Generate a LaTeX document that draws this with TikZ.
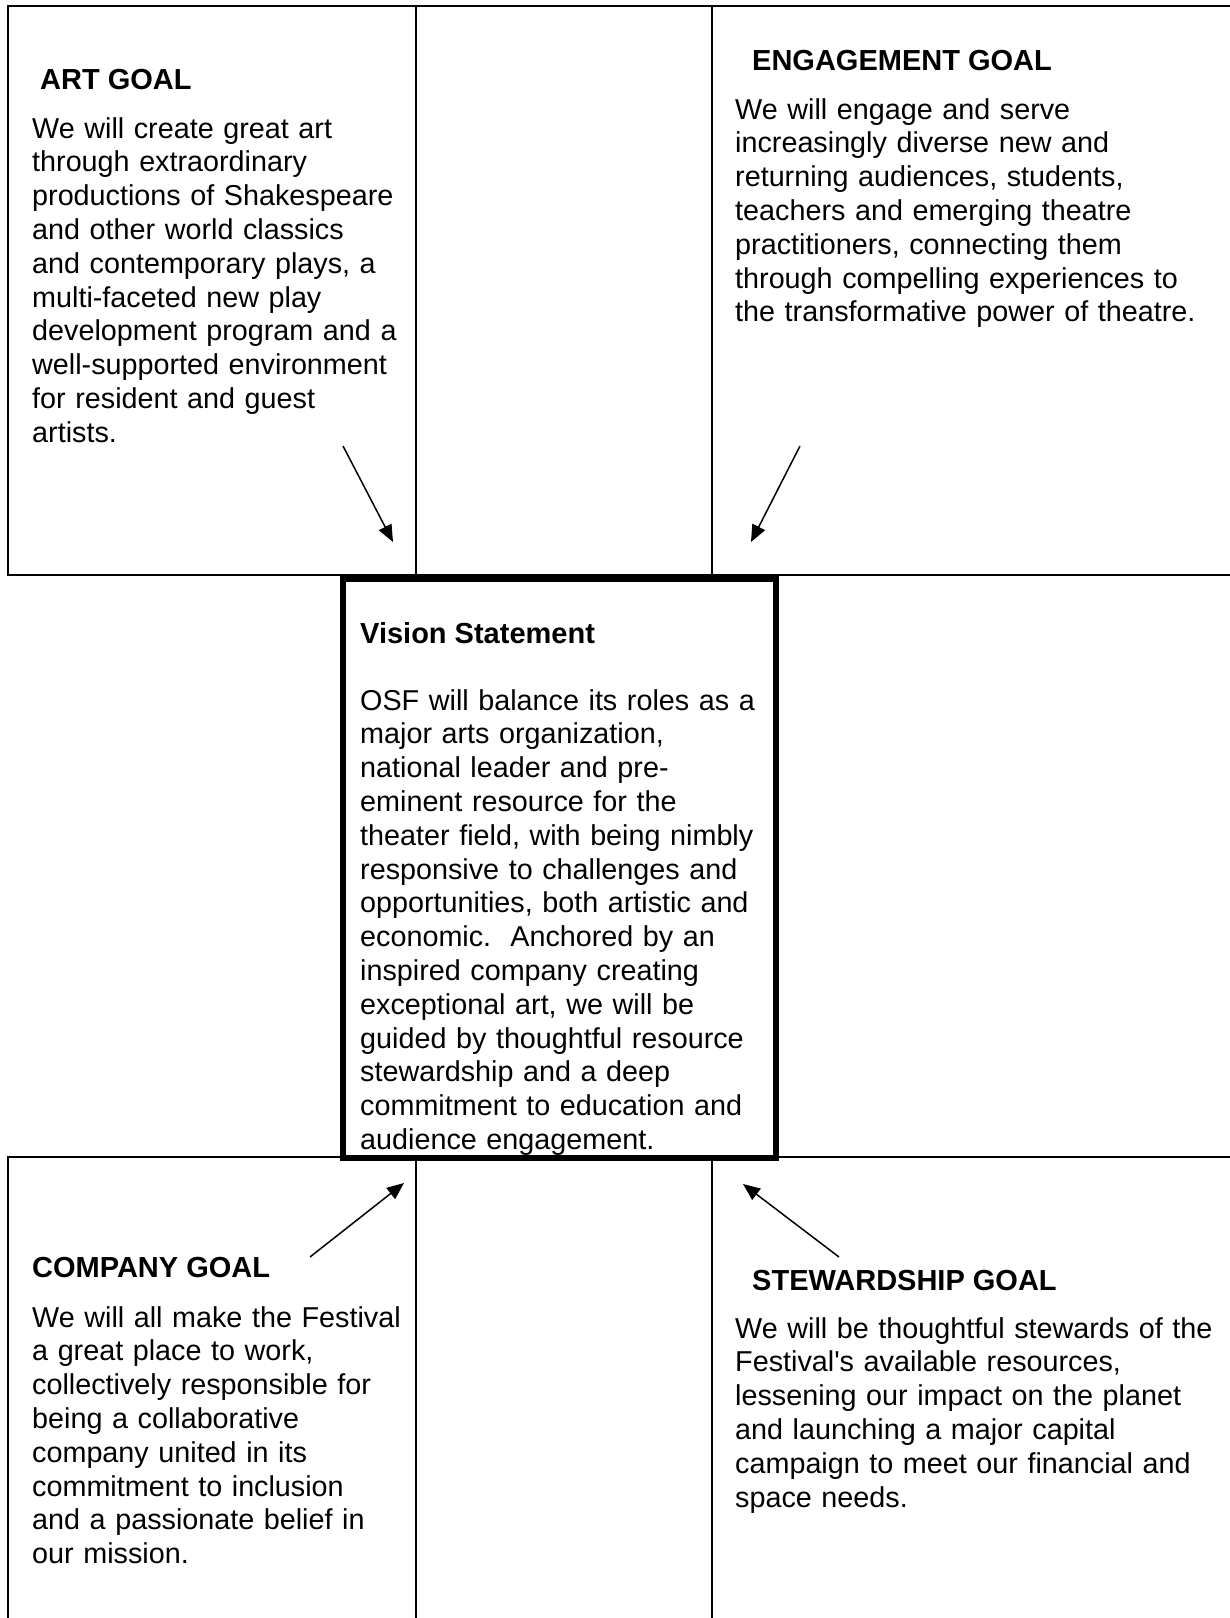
\documentclass[tikz,border=0pt]{standalone}
\usepackage{fontspec}
\newfontfamily\arialf{Liberation Sans}
\usetikzlibrary{arrows.meta}
\begin{document}
\begin{tikzpicture}[x=1pt,y=-1pt,
  thinline/.style={line width=2pt, line join=miter},
  bodytext/.style={anchor=base west, inner sep=0pt, align=left, text width=520pt,
    font=\arialf\fontsize{28.75}{33.8}\selectfont},
  headtext/.style={anchor=base west, inner sep=0pt,
    font=\arialf\bfseries\fontsize{29}{33.8}\selectfont},
  arr/.style={line width=1.5pt, -{Triangle[length=17pt,width=14pt]}},
  visionbox/.style={draw, line width=6pt, fill=white, inner sep=0pt}]
\useasboundingbox (0,0) rectangle (1230,1618);

% cell grid
\draw[thinline] (1230,6) -- (8,6) -- (8,575) -- (1230,575);
\draw[thinline] (416,6) -- (416,575);
\draw[thinline] (712,6) -- (712,575);
\draw[thinline] (8,1618) -- (8,1157) -- (1230,1157);
\draw[thinline] (416,1157) -- (416,1618);
\draw[thinline] (712,1157) -- (712,1618);

% vision box
\node[visionbox, minimum width=433pt, minimum height=579.5pt] (vision) at (559.5,868.25) {};

% Art goal
\node[headtext] (arthead) at (40,89) {ART GOAL};
\node[bodytext] (artbody) at (32,138) {We will create great art\\
through extraordinary\\
productions of Shakespeare\\
and other world classics\\
and contemporary plays, a\\
multi-faceted new play\\
development program and a\\
well-supported environment\\
for resident and guest\\
artists.};

% Engagement goal
\node[headtext] (enghead) at (752,70) {ENGAGEMENT GOAL};
\node[bodytext] (engbody) at (735,119) {We will engage and serve\\
increasingly diverse new and\\
returning audiences, students,\\
teachers and emerging theatre\\
practitioners, connecting them\\
through compelling experiences to\\
the transformative power of theatre.};

% Vision statement
\node[headtext] (vishead) at (360,643) {Vision Statement};
\node[bodytext] (visbody) at (360,710) {OSF will balance its roles as a\\
major arts organization,\\
national leader and pre-\\
eminent resource for the\\
theater field, with being nimbly\\
responsive to challenges and\\
opportunities, both artistic and\\
economic.\ \ Anchored by an\\
inspired company creating\\
exceptional art, we will be\\
guided by thoughtful resource\\
stewardship and a deep\\
commitment to education and\\
audience engagement.};

% Company goal
\node[headtext] (comphead) at (32,1277) {COMPANY GOAL};
\node[bodytext] (compbody) at (32,1327) {We will all make the Festival\\
a great place to work,\\
collectively responsible for\\
being a collaborative\\
company united in its\\
commitment to inclusion\\
and a passionate belief in\\
our mission.};

% Stewardship goal
\node[headtext] (stewhead) at (752,1290) {STEWARDSHIP GOAL};
\node[bodytext] (stewbody) at (735,1338) {We will be thoughtful stewards of the\\
Festival's available resources,\\
lessening our impact on the planet\\
and launching a major capital\\
campaign to meet our financial and\\
space needs.};

% arrows
\coordinate (artfrom) at (343,446);
\coordinate (artto) at (393,542);
\coordinate (engfrom) at (800,446);
\coordinate (engto) at (751,542);
\coordinate (compfrom) at (310,1257);
\coordinate (compto) at (404,1183);
\coordinate (stewfrom) at (839,1257);
\coordinate (stewto) at (743,1184);
\draw[arr] (artfrom) -- (artto);
\draw[arr] (engfrom) -- (engto);
\draw[arr] (compfrom) -- (compto);
\draw[arr] (stewfrom) -- (stewto);
\end{tikzpicture}
\end{document}
